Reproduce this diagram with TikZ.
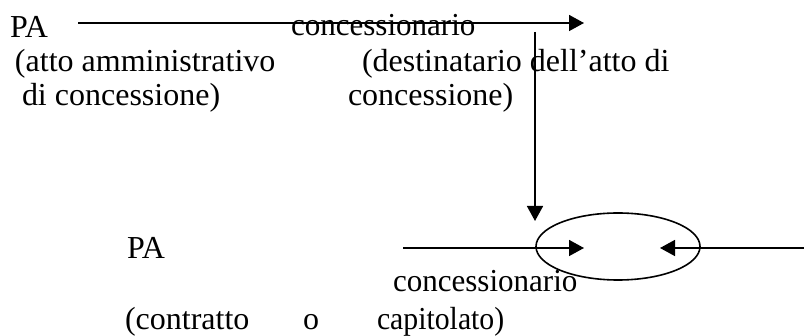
\documentclass[tikz,border=0pt]{standalone}
\usepackage{fontspec}
\setmainfont{Liberation Serif}
\usetikzlibrary{arrows.meta,shapes.geometric}
\begin{document}
\begin{tikzpicture}[x=1pt,y=-1pt,
  txt/.style={anchor=base west,inner sep=0pt,outer sep=0pt,font=\fontsize{32}{34}\selectfont},
  conn/.style={line width=1.6pt,-{Triangle[length=15pt,width=16pt]}}]
\useasboundingbox (0,0) rectangle (804,336);
% top texts
\node[txt] (pa1) at (10,38) {PA};
\node[txt] (conc1) at (291,36) {\scalebox{0.97}[1]{concessionario}};
\node[txt] (atto) at (15,72) {(atto amministrativo};
\node[txt] (dicon) at (22,106) {di concessione)};
\node[txt] (dest) at (362,72) {(destinatario dell’atto di};
\node[txt] (conc2) at (348,106) {concessione)};
% bottom texts
\node[txt] (pa2) at (127,259) {PA};
\node[txt] (conc3) at (393,292) {\scalebox{0.97}[1]{concessionario}};
\node[txt] (contr) at (125,330) {(contratto};
\node[txt] (o) at (303,330) {o};
\node[txt] (capit) at (377,330) {\scalebox{0.93}[1]{capitolato)}};
% ellipse
\node[draw,ellipse,line width=1.6pt,minimum width=164pt,minimum height=67pt,inner sep=0pt] (ell) at (618,246.5) {};
% coordinates
\coordinate (a1s) at (78,23);
\coordinate (a1e) at (584,23);
\coordinate (vs) at (535,32);
\coordinate (ve) at (535,221);
\coordinate (ls) at (403,248);
\coordinate (le) at (584,248);
\coordinate (rs) at (804,248);
\coordinate (re) at (660,248);
% connectors
\draw[conn] (a1s) -- (a1e);
\draw[conn] (vs) -- (ve);
\draw[conn] (ls) -- (le);
\draw[conn] (rs) -- (re);
\end{tikzpicture}
\end{document}
